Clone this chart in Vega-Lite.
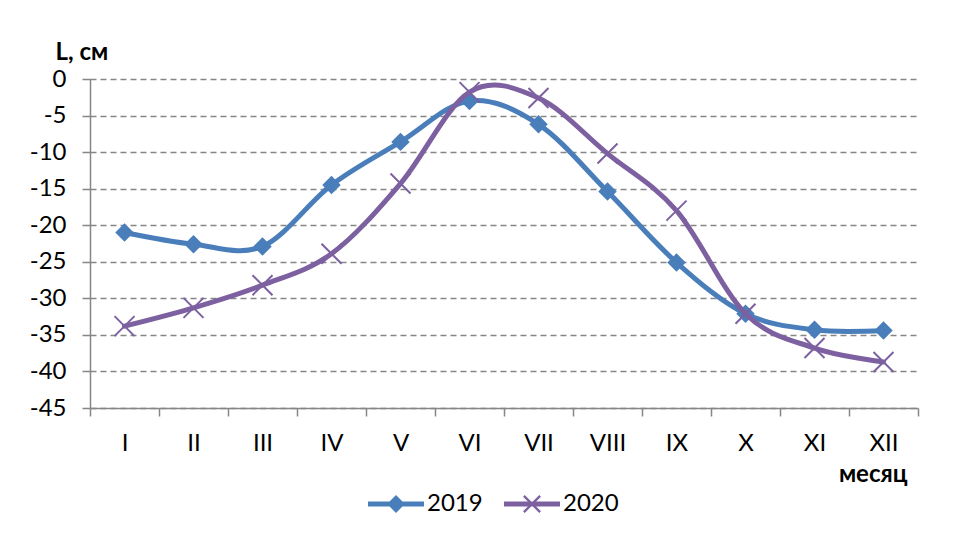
{
  "$schema": "https://vega.github.io/schema/vega-lite/v6.json",
  "width": 828,
  "height": 329,
  "autosize": {"type": "none"},
  "padding": {"left": 90, "top": 79, "right": 39, "bottom": 127},
  "background": "white",
  "config": {"font": "Lato", "view": {"stroke": null}},
  "data": {
    "values": [
      {"month": "I", "year": "2019", "L": -21.0},
      {"month": "II", "year": "2019", "L": -22.6},
      {"month": "III", "year": "2019", "L": -22.9},
      {"month": "IV", "year": "2019", "L": -14.5},
      {"month": "V", "year": "2019", "L": -8.6},
      {"month": "VI", "year": "2019", "L": -3.0},
      {"month": "VII", "year": "2019", "L": -6.2},
      {"month": "VIII", "year": "2019", "L": -15.4},
      {"month": "IX", "year": "2019", "L": -25.1},
      {"month": "X", "year": "2019", "L": -32.1},
      {"month": "XI", "year": "2019", "L": -34.3},
      {"month": "XII", "year": "2019", "L": -34.4},
      {"month": "I", "year": "2020", "L": -33.8},
      {"month": "II", "year": "2020", "L": -31.3},
      {"month": "III", "year": "2020", "L": -28.2},
      {"month": "IV", "year": "2020", "L": -23.9},
      {"month": "V", "year": "2020", "L": -14.3},
      {"month": "VI", "year": "2020", "L": -1.8},
      {"month": "VII", "year": "2020", "L": -2.6},
      {"month": "VIII", "year": "2020", "L": -10.2},
      {"month": "IX", "year": "2020", "L": -18.0},
      {"month": "X", "year": "2020", "L": -32.1},
      {"month": "XI", "year": "2020", "L": -36.8},
      {"month": "XII", "year": "2020", "L": -38.7}
    ]
  },
  "layer": [
    {
      "transform": [{"filter": "datum.year == '2019'"}],
      "mark": {"type": "line", "interpolate": "cardinal", "strokeWidth": 5, "strokeCap": "round"},
      "encoding": {
        "x": {
          "field": "month", "type": "ordinal",
          "sort": ["I", "II", "III", "IV", "V", "VI", "VII", "VIII", "IX", "X", "XI", "XII"],
          "scale": {"type": "band", "paddingInner": 0, "paddingOuter": 0},
          "axis": {
            "labelAngle": 0, "tickBand": "extent", "grid": false,
            "domainColor": "#868686", "domainWidth": 1.5, "tickColor": "#868686", "tickWidth": 1.5, "tickSize": 8,
            "labelFontSize": 24, "labelColor": "#000000", "labelPadding": 15,
            "title": "месяц", "titleFontSize": 24, "titleFontWeight": "bold", "titleColor": "#000000",
            "titleAlign": "right", "titleBaseline": "alphabetic", "titleX": 817, "titleY": 73
          }
        },
        "y": {
          "field": "L", "type": "quantitative",
          "scale": {"domain": [-45, 0], "nice": false, "zero": false},
          "axis": {
            "values": [-45, -40, -35, -30, -25, -20, -15, -10, -5, 0], "tickCount": 20,
            "labelExpr": "'' + datum.value", "labelOverlap": false, "labelFlush": false,
            "grid": true, "gridDash": [6, 4], "gridColor": "#868686", "gridWidth": 1.5,
            "domainColor": "#868686", "domainWidth": 1.5, "tickColor": "#868686", "tickWidth": 1.5, "tickSize": 8,
            "labelFontSize": 24, "labelColor": "#000000", "labelPadding": 16,
            "title": "L, см", "titleAngle": 0, "titleFontSize": 24, "titleFontWeight": "bold", "titleColor": "#000000",
            "titleAlign": "left", "titleBaseline": "alphabetic", "titleX": -35, "titleY": -20
          }
        },
        "color": {"field": "year", "type": "nominal", "scale": {"range": ["#4A7EBB", "#7D60A0"]}, "legend": null}
      }
    },
    {
      "transform": [{"filter": "datum.year == '2019'"}],
      "mark": {"type": "point", "shape": "diamond", "filled": true, "size": 340, "opacity": 1},
      "encoding": {
        "x": {"field": "month", "type": "ordinal", "sort": ["I", "II", "III", "IV", "V", "VI", "VII", "VIII", "IX", "X", "XI", "XII"]},
        "y": {"field": "L", "type": "quantitative"},
        "color": {"field": "year", "type": "nominal", "legend": null}
      }
    },
    {
      "transform": [{"filter": "datum.year == '2020'"}],
      "mark": {"type": "line", "interpolate": "cardinal", "strokeWidth": 5, "strokeCap": "round"},
      "encoding": {
        "x": {"field": "month", "type": "ordinal", "sort": ["I", "II", "III", "IV", "V", "VI", "VII", "VIII", "IX", "X", "XI", "XII"]},
        "y": {"field": "L", "type": "quantitative"},
        "color": {"field": "year", "type": "nominal", "legend": null}
      }
    },
    {
      "transform": [{"filter": "datum.year == '2020'"}],
      "mark": {"type": "point", "shape": "M-1,-1L1,1M-1,1L1,-1", "filled": false, "size": 400, "strokeWidth": 2, "opacity": 1},
      "encoding": {
        "x": {"field": "month", "type": "ordinal", "sort": ["I", "II", "III", "IV", "V", "VI", "VII", "VIII", "IX", "X", "XI", "XII"]},
        "y": {"field": "L", "type": "quantitative"},
        "color": {"field": "year", "type": "nominal", "legend": null}
      }
    },
    {
      "mark": {"type": "point", "filled": true, "size": 0},
      "encoding": {
        "x": {"field": "month", "type": "ordinal", "sort": ["I", "II", "III", "IV", "V", "VI", "VII", "VIII", "IX", "X", "XI", "XII"]},
        "y": {"field": "L", "type": "quantitative"},
        "fill": {
          "field": "year", "type": "nominal",
          "scale": {"domain": ["2019", "2020"], "range": ["#4A7EBB", "#7D60A0"]},
          "legend": {
            "orient": "none", "legendX": 278, "legendY": 397, "direction": "horizontal", "title": null,
            "symbolSize": 3136, "symbolOpacity": 1, "symbolStrokeWidth": 0,
            "labelFontSize": 24, "labelColor": "#000000", "labelOffset": 3, "columnPadding": 21
          }
        },
        "shape": {
          "field": "year", "type": "nominal",
          "scale": {"domain": ["2019", "2020"], "range": [
            "M-1,-0.085H1V0.085H-1Z M-0.32,0L0,-0.32L0.32,0L0,0.32Z",
            "M-1,-0.085H1V0.085H-1Z M-0.32,-0.26L-0.26,-0.32L0.32,0.26L0.26,0.32Z M0.26,-0.32L0.32,-0.26L-0.26,0.32L-0.32,0.26Z"
          ]},
          "legend": {
            "orient": "none", "legendX": 278, "legendY": 397, "direction": "horizontal", "title": null,
            "symbolSize": 3136, "symbolOpacity": 1, "symbolStrokeWidth": 0,
            "labelFontSize": 24, "labelColor": "#000000", "labelOffset": 3, "columnPadding": 21
          }
        }
      }
    }
  ]
}
